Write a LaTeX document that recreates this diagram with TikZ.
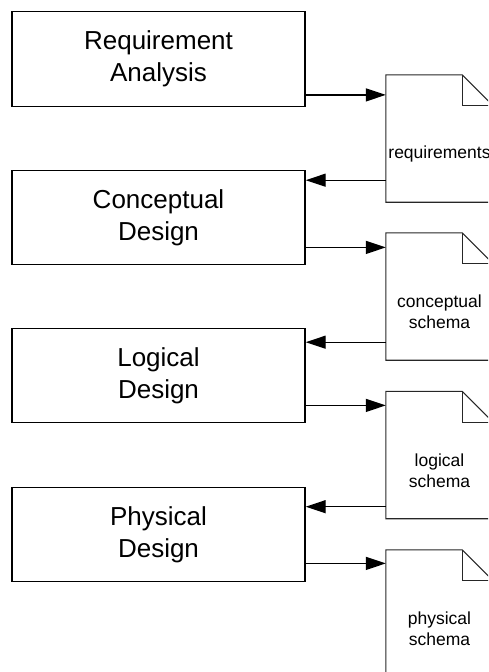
\documentclass[tikz,border=0pt]{standalone}
\usepackage{fontspec}
\setmainfont{Liberation Sans}
\usetikzlibrary{arrows.meta}
\begin{document}
\begin{tikzpicture}[x=1pt,y=-1pt,
  stage/.style={draw=black,line width=1.3pt,minimum width=293pt,minimum height=94.5pt,
    inner sep=0pt,align=center,font=\fontsize{26}{32}\selectfont},
  doc/.style={minimum width=107pt,minimum height=127pt,inner sep=0pt},
  doctext/.style={align=center,font=\fontsize{17.5}{21}\selectfont,inner sep=0pt},
  docline/.style={line width=1.1pt,draw=black!85,line join=miter},
  flow/.style={line width=1.3pt,-{Triangle[length=20pt,width=13pt]}}]
\useasboundingbox (0,0) rectangle (488,672);
\clip (0,0) rectangle (488,672);

% design stages
\node[stage] (s1) at (158.5,59)    {Requirement\\Analysis};
\node[stage] (s2) at (158.5,217.5) {Conceptual\\Design};
\node[stage] (s3) at (158.5,375.5) {Logical\\Design};
\node[stage] (s4) at (158.5,534.5) {Physical\\Design};

% documents produced by each stage
\node[doc] (d1) at (439.5,138.5) {};
\node[doc] (d2) at (439.5,296.5) {};
\node[doc] (d3) at (439.5,455)   {};
\node[doc] (d4) at (439.5,613.5) {};

\foreach \d in {d1,d2,d3,d4}{
  \draw[docline] (\d.north west) -- ([xshift=-31pt]\d.north east)
    -- ([yshift=-31pt]\d.north east) -- (\d.south east) -- (\d.south west) -- cycle;
  \draw[docline] ([xshift=-31pt]\d.north east) -- ([xshift=-31pt,yshift=-31pt]\d.north east)
    -- ([yshift=-31pt]\d.north east);
}

\node[doctext] (t1) at ([yshift=-15.5pt]d1.center) {requirements};
\node[doctext] (t2) at ([yshift=-15.5pt]d2.center) {conceptual\\schema};
\node[doctext] (t3) at ([yshift=-15.5pt]d3.center) {logical\\schema};
\node[doctext] (t4) at ([yshift=-15.5pt]d4.center) {physical\\schema};

% stage -> document
\draw[flow] ([yshift=12pt]s1.south east) -- ([yshift=12pt]s1.south east -| d1.west);
\draw[flow] ([yshift=18pt]s2.south east) -- ([yshift=18pt]s2.south east -| d2.west);
\draw[flow] ([yshift=18pt]s3.south east) -- ([yshift=18pt]s3.south east -| d3.west);
\draw[flow] ([yshift=19pt]s4.south east) -- ([yshift=19pt]s4.south east -| d4.west);

% document -> next stage
\draw[flow] ([yshift=22pt]d1.south west) -- ([yshift=22pt]d1.south west -| s2.east);
\draw[flow] ([yshift=18pt]d2.south west) -- ([yshift=18pt]d2.south west -| s3.east);
\draw[flow] ([yshift=12pt]d3.south west) -- ([yshift=12pt]d3.south west -| s4.east);
\end{tikzpicture}
\end{document}
